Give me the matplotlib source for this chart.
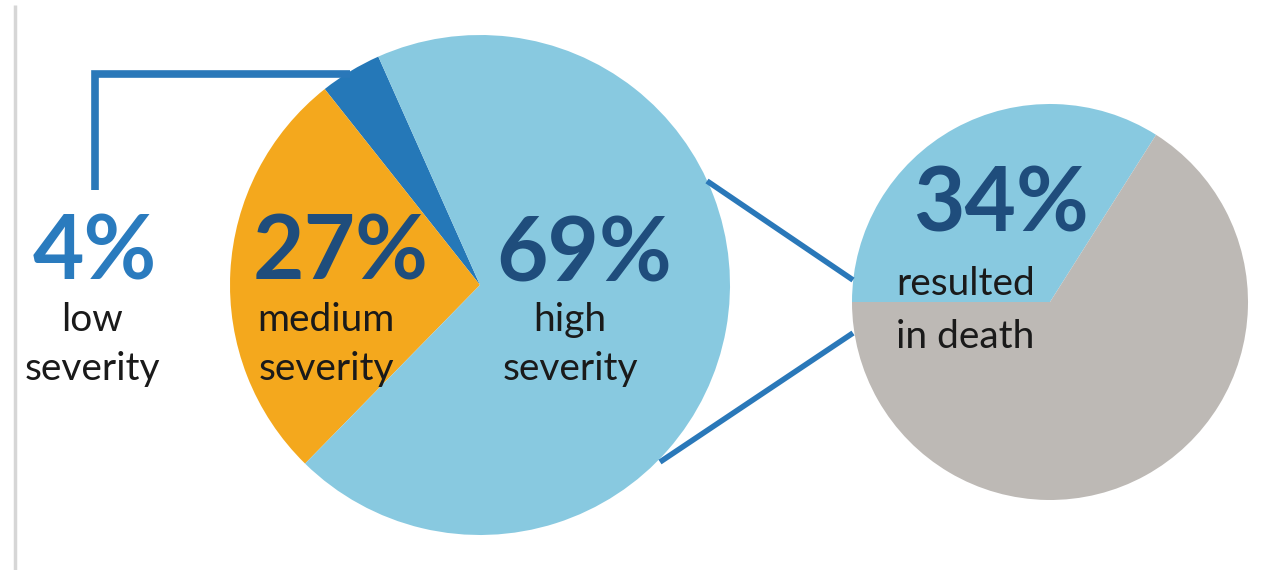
import matplotlib
matplotlib.use("Agg")
import matplotlib.pyplot as plt

# data
severity_labels = ["low\nseverity", "medium\nseverity", "high\nseverity"]
severity_shares = [4, 27, 69]
death_labels = ["resulted\nin death", ""]
death_shares = [34, 66]

LIGHT = "#88C9E0"
ORANGE = "#F4A81D"
DARK = "#2578B8"
GREY = "#BDB9B5"
NAVY = "#1F4D7C"
LINE = "#2A78B9"

W, H = 1261, 570
plt.rcParams["font.family"] = ["Lato", "DejaVu Sans"]

fig = plt.figure(figsize=(W / 100, H / 100), dpi=100)
ax = fig.add_axes([0, 0, 1, 1])


def fy(y):
    # pixel row (top-down) -> data y
    return H - y


# big pie
big_c = (480, fy(285))
ax.pie(severity_shares, colors=[DARK, ORANGE, LIGHT], startangle=114,
       counterclock=True, center=big_c, radius=250,
       wedgeprops=dict(linewidth=0))

# small pie
small_c = (1050, fy(302))
ax.pie(death_shares, colors=[LIGHT, GREY], startangle=180,
       counterclock=False, center=small_c, radius=198,
       wedgeprops=dict(linewidth=0))

ax.set_xlim(0, W)
ax.set_ylim(0, H)
ax.set_aspect("auto")
ax.axis("off")

# left grey border
ax.plot([15, 15], [fy(5), fy(570)], color="#D6D6D6", lw=2.5, solid_capstyle="butt")

# leader line for low severity
ax.plot([350, 95, 95], [fy(74), fy(74), fy(190)], color=LINE, lw=5.5,
        solid_joinstyle="miter", solid_capstyle="butt")

# zoom connectors
ax.plot([707, 853], [fy(181), fy(280)], color=LINE, lw=4, solid_capstyle="butt")
ax.plot([660, 853], [fy(462), fy(333)], color=LINE, lw=4, solid_capstyle="butt")

# percentages
pct_pos = [(95, 280, "#2A7BBE"), (341, 280, NAVY), (584, 281, NAVY)]
for v, (x, y, c) in zip(severity_shares, pct_pos):
    ax.text(x, fy(y), f"{v}%", fontsize=64, fontweight="bold", color=c,
            ha="center", va="baseline")

lab_pos = [(92, 302), (326, 302), (570, 302)]
for lab, (x, y) in zip(severity_labels, lab_pos):
    ax.text(x, fy(y), lab, fontsize=28, color="#1A1A1A", ha="center",
            va="top", linespacing=1.45)

ax.text(1001, fy(232), f"{death_shares[0]}%", fontsize=64, fontweight="bold",
        color=NAVY, ha="center", va="baseline")
ax.text(896, fy(266), death_labels[0], fontsize=28, color="#1A1A1A",
        ha="left", va="top", linespacing=1.6)

fig.savefig("out.png", dpi=100)
